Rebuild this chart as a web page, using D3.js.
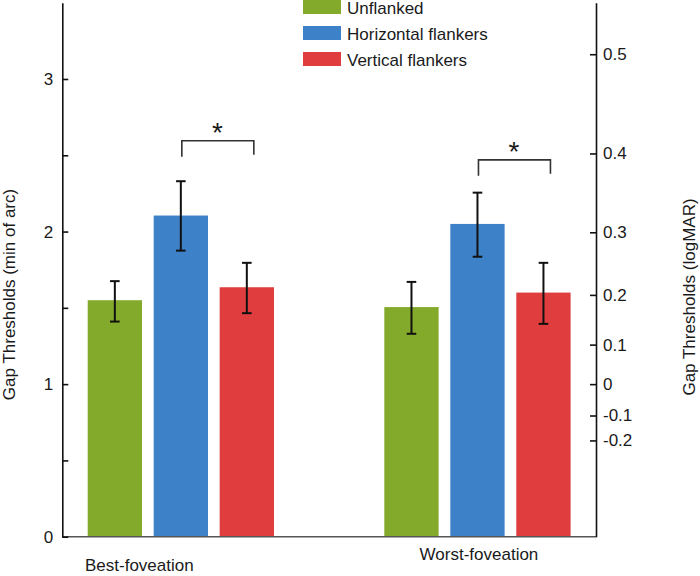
<!DOCTYPE html>
<html>
<head>
<meta charset="utf-8">
<script src="https://cdn.jsdelivr.net/npm/d3@7"></script>
<style>
  html, body { margin: 0; padding: 0; background: #fff; }
  svg { display: block; }
  text { font-family: "Liberation Sans", Arial, Helvetica, sans-serif; fill: #1a1a1a; }
</style>
</head>
<body>
<svg id="chart" width="700" height="576"></svg>
<script>
// ---------------- DATA ----------------
const categories = ["Best-foveation", "Worst-foveation"];
const seriesNames = ["Unflanked", "Horizontal flankers", "Vertical flankers"];
const unflanked = [1.55, 1.505];
const horizontal = [2.105, 2.05];
const vertical = [1.635, 1.60];
const unflankedLow = [1.41, 1.33];
const unflankedHigh = [1.675, 1.67];
const horizontalLow = [1.875, 1.835];
const horizontalHigh = [2.33, 2.255];
const verticalLow = [1.465, 1.395];
const verticalHigh = [1.795, 1.795];
const leftTicks = [0, 0.5, 1, 1.5, 2, 2.5, 3];
const logMARTicks = [-0.2, -0.1, 0, 0.1, 0.2, 0.3, 0.4, 0.5];
const logMARLabels = ["-0.2", "-0.1", "0", "0.1", "0.2", "0.3", "0.4", "0.5"];
const sigBracketLevels = [2.595, 2.47];   // min of arc, bracket top per category
const sigLabel = "*";

// ---------------- LAYOUT ----------------
const colors = ["#84aa2b", "#3d82c9", "#e03e3e"];
const svg = d3.select("#chart");
const xLeft = 62.3, xRight = 596, yBottom = 536.7, yTop = 2.7;

const y = d3.scaleLinear().domain([0, 3.5]).range([yBottom, yTop]);
const x0 = d3.scaleBand().domain(categories).range([xLeft, xRight])
  .paddingInner(0.372).paddingOuter(0.0856);
const x1 = d3.scaleBand().domain(seriesNames).range([0, x0.bandwidth()])
  .paddingInner(0.177).paddingOuter(0);

const means = [unflanked, horizontal, vertical];
const lows = [unflankedLow, horizontalLow, verticalLow];
const highs = [unflankedHigh, horizontalHigh, verticalHigh];

const rows = [];
categories.forEach((c, ci) => {
  seriesNames.forEach((s, si) => {
    rows.push({cat: c, ser: s, si, v: means[si][ci], lo: lows[si][ci], hi: highs[si][ci]});
  });
});

// bars
svg.append("g").selectAll("rect").data(rows).join("rect")
  .attr("x", d => x0(d.cat) + x1(d.ser))
  .attr("y", d => y(d.v))
  .attr("width", x1.bandwidth())
  .attr("height", d => y(0) - y(d.v))
  .attr("fill", d => colors[d.si]);

// error bars
const eg = svg.append("g").attr("stroke", "#111").attr("stroke-width", 2).attr("fill", "none");
rows.forEach(d => {
  const cx = x0(d.cat) + x1(d.ser) + x1.bandwidth() / 2;
  eg.append("line").attr("x1", cx).attr("x2", cx).attr("y1", y(d.hi)).attr("y2", y(d.lo));
  eg.append("line").attr("x1", cx - 4.8).attr("x2", cx + 4.8).attr("y1", y(d.hi)).attr("y2", y(d.hi));
  eg.append("line").attr("x1", cx - 4.8).attr("x2", cx + 4.8).attr("y1", y(d.lo)).attr("y2", y(d.lo));
});

// significance brackets
categories.forEach((c, ci) => {
  const xa = x0(c) + x1(seriesNames[1]) + x1.bandwidth() / 2 + 1;
  const xb = x0(c) + x1(seriesNames[2]) + x1.bandwidth() / 2 + 7;
  const yt = y(sigBracketLevels[ci]);
  svg.append("path")
    .attr("d", `M${xa},${yt + 16}V${yt}H${xb}V${yt + 14}`)
    .attr("fill", "none").attr("stroke", "#333").attr("stroke-width", 1.6);
  svg.append("text")
    .attr("x", (xa + xb) / 2 - 0.5)
    .attr("y", yt + 1)
    .attr("text-anchor", "middle")
    .attr("font-size", 28)
    .text(sigLabel);
});

// baseline
svg.append("line").attr("x1", xLeft).attr("x2", xRight)
  .attr("y1", y(0)).attr("y2", y(0))
  .attr("stroke", "#555").attr("stroke-width", 1.5);

// left axis
const gl = svg.append("g").attr("transform", `translate(${xLeft},0)`)
  .call(d3.axisLeft(y).tickValues(leftTicks)
    .tickFormat(d => Number.isInteger(d) ? d3.format("d")(d) : "")
    .tickSize(-6).tickSizeOuter(0).tickPadding(9));
gl.selectAll("path, line").attr("stroke", "#111").attr("stroke-width", 1.6);
gl.selectAll("text").attr("font-size", 17).attr("font-family", null).attr("fill", "#1a1a1a");

// right axis (logMAR), positioned on the linear min-of-arc scale
const gr = svg.append("g").attr("transform", `translate(${xRight},0)`)
  .call(d3.axisRight(y).tickValues(logMARTicks.map(v => Math.pow(10, v)))
    .tickFormat((d, i) => logMARLabels[i])
    .tickSize(-6).tickSizeOuter(0).tickPadding(7));
gr.selectAll("path, line").attr("stroke", "#111").attr("stroke-width", 1.6);
gr.selectAll("text").attr("font-size", 17).attr("font-family", null).attr("fill", "#1a1a1a");

// axis titles
svg.append("text").attr("transform", "translate(15,294.5) rotate(-90)")
  .attr("text-anchor", "middle").attr("font-size", 17)
  .text("Gap Thresholds (min of arc)");
svg.append("text").attr("transform", "translate(695,297) rotate(-90)")
  .attr("text-anchor", "middle").attr("font-size", 17)
  .text("Gap Thresholds (logMAR)");

// category labels
const catOffsets = [{dx: -41.5, y: 571}, {dx: 1.5, y: 560}];
categories.forEach((c, ci) => {
  svg.append("text")
    .attr("x", x0(c) + x0.bandwidth() / 2 + catOffsets[ci].dx)
    .attr("y", catOffsets[ci].y)
    .attr("text-anchor", "middle").attr("font-size", 17)
    .text(c);
});

// legend
const lg = svg.append("g");
seriesNames.forEach((s, i) => {
  const yy = 0 + i * 26;
  lg.append("rect").attr("x", 303).attr("y", yy).attr("width", 38).attr("height", 14)
    .attr("fill", colors[i]);
  lg.append("text").attr("x", 347).attr("y", yy + 13.5).attr("font-size", 17).text(s);
});
</script>
</body>
</html>
